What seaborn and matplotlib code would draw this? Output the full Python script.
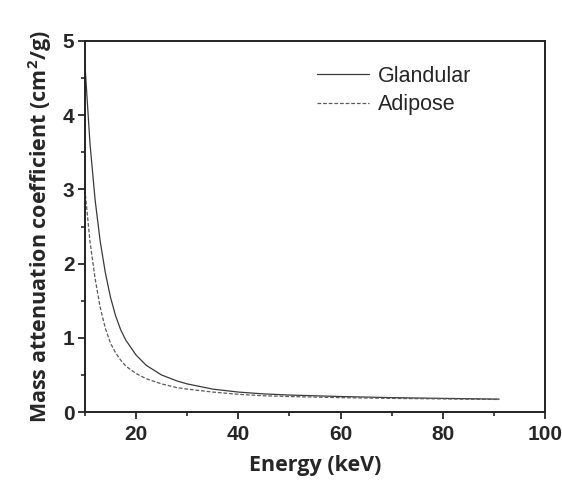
import matplotlib
matplotlib.use("Agg")
import matplotlib.pyplot as plt
from matplotlib.ticker import MultipleLocator
import seaborn as sns
import pandas as pd

# energies (keV) and mass attenuation coefficients (cm^2/g)
energy = [10, 11, 12, 13, 14, 15, 16, 17, 18, 20, 22, 25, 28, 30, 35, 40, 45, 50, 60, 70, 80, 91]
glandular = [4.70, 3.62, 2.86, 2.30, 1.88, 1.55, 1.30, 1.11, 0.97, 0.77, 0.63, 0.50, 0.42,
             0.38, 0.31, 0.27, 0.245, 0.23, 0.21, 0.195, 0.185, 0.175]
adipose = [3.00, 2.30, 1.80, 1.41, 1.13, 0.93, 0.80, 0.70, 0.62, 0.52, 0.45, 0.38, 0.33,
           0.31, 0.27, 0.24, 0.22, 0.21, 0.195, 0.185, 0.178, 0.17]

df = pd.DataFrame({"Energy": energy, "Glandular": glandular, "Adipose": adipose})
df = df.melt(id_vars="Energy", var_name="Tissue", value_name="mu")

sns.set_style("ticks")
plt.rcParams["font.family"] = ["Liberation Sans", "DejaVu Sans"]
plt.rcParams["mathtext.fontset"] = "custom"
plt.rcParams["mathtext.rm"] = "Open Sans:bold"
plt.rcParams["mathtext.it"] = "Open Sans:bold"
plt.rcParams["mathtext.bf"] = "Open Sans:bold"

fig = plt.figure(figsize=(5.62, 4.82), dpi=100)
ax = fig.add_axes([0.151, 0.145, 0.819, 0.770])

sns.lineplot(data=df, x="Energy", y="mu", hue="Tissue", style="Tissue",
             palette={"Glandular": "#3a3a3a", "Adipose": "#5a5a5a"},
             dashes={"Glandular": "", "Adipose": (3, 1.5)},
             linewidth=0.9, ax=ax)

ax.set_xlim(10, 100)
ax.set_ylim(0, 5)
ax.xaxis.set_major_locator(MultipleLocator(20))
ax.xaxis.set_minor_locator(MultipleLocator(10))
ax.yaxis.set_major_locator(MultipleLocator(1))
ax.yaxis.set_minor_locator(MultipleLocator(0.5))
ax.tick_params(which="major", direction="out", length=5, width=1.3, top=False, right=False,
               labelsize=15)
ax.tick_params(which="minor", direction="out", length=3, width=1.2, top=False, right=False)
ax.tick_params(axis="x", pad=4)
ax.tick_params(axis="y", pad=2.5)
for s in ax.spines.values():
    s.set_linewidth(1.4)
    s.set_color("#222222")

ax.set_xlabel("Energy (keV)", fontsize=15.5, fontfamily="Open Sans", fontweight="bold",
              labelpad=8)
ax.set_ylabel("Mass attenuation coefficient (cm$^{2}$/g)", fontsize=15.5,
              fontfamily="Open Sans", fontweight="bold", labelpad=6)

leg = ax.legend(loc="upper left", bbox_to_anchor=(0.463, 0.985), frameon=False,
                fontsize=15.5, handlelength=2.4, handletextpad=0.4, labelspacing=0.35)

fig.canvas.draw()
for lab in ax.get_xticklabels() + ax.get_yticklabels():
    lab.set_fontweight("bold")

fig.savefig("out.png", dpi=100)
